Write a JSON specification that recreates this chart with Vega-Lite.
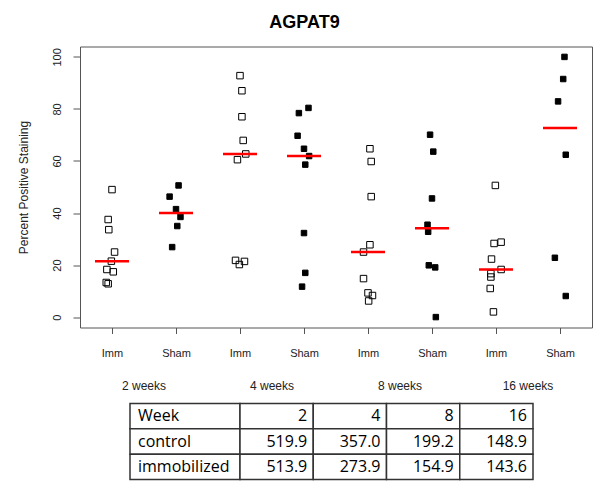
{
  "$schema": "https://vega.github.io/schema/vega-lite/v6.json",
  "background": "white",
  "padding": {"left": 16, "top": 13.5, "right": 5, "bottom": 5},
  "title": {"text": "AGPAT9", "fontSize": 18, "font": "Liberation Sans", "fontWeight": "bold", "anchor": "middle", "offset": 14, "color": "black"},
  "config": {"font": "Liberation Sans"},
  "resolve": {"scale": {"x": "independent", "y": "independent"}},
  "spacing": 0,
  "vconcat": [
    {
      "width": 512,
      "height": 281,
      "view": {"stroke": "#555", "strokeWidth": 1},
      "data": {"values": [
        {"g": 1, "t": "Imm", "xj": 1.00, "v": 49.0},
        {"g": 1, "t": "Imm", "xj": 0.94, "v": 37.5},
        {"g": 1, "t": "Imm", "xj": 0.95, "v": 33.6},
        {"g": 1, "t": "Imm", "xj": 1.04, "v": 25.0},
        {"g": 1, "t": "Imm", "xj": 0.99, "v": 21.5},
        {"g": 1, "t": "Imm", "xj": 0.92, "v": 18.3},
        {"g": 1, "t": "Imm", "xj": 1.02, "v": 17.4},
        {"g": 1, "t": "Imm", "xj": 0.91, "v": 13.3},
        {"g": 1, "t": "Imm", "xj": 0.94, "v": 12.8},
        {"g": 2, "t": "Sham", "xj": 2.04, "v": 50.6},
        {"g": 2, "t": "Sham", "xj": 1.90, "v": 46.3},
        {"g": 2, "t": "Sham", "xj": 2.00, "v": 41.5},
        {"g": 2, "t": "Sham", "xj": 2.07, "v": 38.5},
        {"g": 2, "t": "Sham", "xj": 2.02, "v": 35.0},
        {"g": 2, "t": "Sham", "xj": 1.94, "v": 26.9},
        {"g": 3, "t": "Imm", "xj": 3.00, "v": 92.8},
        {"g": 3, "t": "Imm", "xj": 3.03, "v": 87.0},
        {"g": 3, "t": "Imm", "xj": 3.03, "v": 77.0},
        {"g": 3, "t": "Imm", "xj": 3.05, "v": 67.9},
        {"g": 3, "t": "Imm", "xj": 3.09, "v": 62.7},
        {"g": 3, "t": "Imm", "xj": 2.96, "v": 60.5},
        {"g": 3, "t": "Imm", "xj": 2.93, "v": 21.8},
        {"g": 3, "t": "Imm", "xj": 3.07, "v": 21.4},
        {"g": 3, "t": "Imm", "xj": 2.99, "v": 20.2},
        {"g": 4, "t": "Sham", "xj": 4.07, "v": 80.4},
        {"g": 4, "t": "Sham", "xj": 3.92, "v": 78.4},
        {"g": 4, "t": "Sham", "xj": 3.90, "v": 69.7},
        {"g": 4, "t": "Sham", "xj": 4.00, "v": 64.7},
        {"g": 4, "t": "Sham", "xj": 4.08, "v": 61.9},
        {"g": 4, "t": "Sham", "xj": 4.02, "v": 58.6},
        {"g": 4, "t": "Sham", "xj": 4.00, "v": 32.3},
        {"g": 4, "t": "Sham", "xj": 4.02, "v": 17.0},
        {"g": 4, "t": "Sham", "xj": 3.97, "v": 11.7},
        {"g": 5, "t": "Imm", "xj": 5.03, "v": 64.7},
        {"g": 5, "t": "Imm", "xj": 5.05, "v": 59.8},
        {"g": 5, "t": "Imm", "xj": 5.05, "v": 46.3},
        {"g": 5, "t": "Imm", "xj": 5.03, "v": 27.8},
        {"g": 5, "t": "Imm", "xj": 4.93, "v": 25.0},
        {"g": 5, "t": "Imm", "xj": 4.93, "v": 14.8},
        {"g": 5, "t": "Imm", "xj": 5.00, "v": 9.3},
        {"g": 5, "t": "Imm", "xj": 5.07, "v": 8.3},
        {"g": 5, "t": "Imm", "xj": 5.01, "v": 6.2},
        {"g": 6, "t": "Sham", "xj": 5.97, "v": 70.1},
        {"g": 6, "t": "Sham", "xj": 6.02, "v": 63.6},
        {"g": 6, "t": "Sham", "xj": 6.00, "v": 45.6},
        {"g": 6, "t": "Sham", "xj": 5.93, "v": 35.5},
        {"g": 6, "t": "Sham", "xj": 5.94, "v": 32.8},
        {"g": 6, "t": "Sham", "xj": 5.95, "v": 19.9},
        {"g": 6, "t": "Sham", "xj": 6.05, "v": 19.1},
        {"g": 6, "t": "Sham", "xj": 6.06, "v": 0.0},
        {"g": 7, "t": "Imm", "xj": 6.99, "v": 50.6},
        {"g": 7, "t": "Imm", "xj": 7.08, "v": 28.8},
        {"g": 7, "t": "Imm", "xj": 6.97, "v": 28.3},
        {"g": 7, "t": "Imm", "xj": 6.93, "v": 22.3},
        {"g": 7, "t": "Imm", "xj": 7.08, "v": 18.3},
        {"g": 7, "t": "Imm", "xj": 6.92, "v": 16.7},
        {"g": 7, "t": "Imm", "xj": 6.92, "v": 15.4},
        {"g": 7, "t": "Imm", "xj": 6.91, "v": 11.0},
        {"g": 7, "t": "Imm", "xj": 6.96, "v": 2.0},
        {"g": 8, "t": "Sham", "xj": 8.07, "v": 100.0},
        {"g": 8, "t": "Sham", "xj": 8.05, "v": 91.5},
        {"g": 8, "t": "Sham", "xj": 7.97, "v": 82.9},
        {"g": 8, "t": "Sham", "xj": 8.09, "v": 62.4},
        {"g": 8, "t": "Sham", "xj": 7.92, "v": 22.8},
        {"g": 8, "t": "Sham", "xj": 8.09, "v": 8.1}
      ]},
      "layer": [
        {
          "mark": {"type": "point", "shape": "square", "filled": true, "stroke": "black", "strokeWidth": 1, "opacity": 1},
          "encoding": {
            "x": {"field": "xj", "type": "quantitative",
                  "scale": {"domain": [0.5, 8.5], "nice": false, "zero": false},
                  "axis": {"values": [1, 2, 3, 4, 5, 6, 7, 8], "labelExpr": "datum.value % 2 == 1 ? 'Imm' : 'Sham'", "title": null, "domain": false, "grid": false, "tickSize": 6, "tickColor": "#555", "labelPadding": 14, "labelFontSize": 11, "labelColor": "#222", "labelFont": "Liberation Sans"}},
            "y": {"field": "v", "type": "quantitative",
                  "scale": {"domain": [-4, 104], "nice": false, "zero": false},
                  "axis": {"values": [0, 20, 40, 60, 80, 100], "title": "Percent Positive Staining", "titleFontSize": 12, "titleFontWeight": "normal", "titleColor": "#222", "titlePadding": 21, "labelAngle": -90, "labelFontSize": 11, "labelColor": "#222", "labelPadding": 11, "tickSize": 7, "tickColor": "#555", "domain": false, "grid": false}},
            "fill": {"field": "t", "type": "nominal", "scale": {"domain": ["Imm", "Sham"], "range": ["transparent", "black"]}, "legend": null},
            "size": {"field": "t", "type": "ordinal", "scale": {"domain": ["Imm", "Sham"], "range": [42, 30]}, "legend": null}
          }
        },
        {
          "mark": {"type": "tick", "orient": "horizontal", "color": "#ff0000", "size": 34, "thickness": 2.5, "opacity": 1},
          "encoding": {
            "x": {"field": "g", "type": "quantitative"},
            "y": {"aggregate": "median", "field": "v", "type": "quantitative"}
          }
        }
      ]
    },
    {
      "width": 512,
      "height": 43,
      "view": {"stroke": null},
      "data": {"values": [
        {"m": 1.5, "w": "2 weeks"},
        {"m": 3.5, "w": "4 weeks"},
        {"m": 5.5, "w": "8 weeks"},
        {"m": 7.5, "w": "16 weeks"}
      ]},
      "mark": {"type": "text", "fontSize": 12, "color": "#222", "baseline": "middle", "dy": 4.5},
      "encoding": {
        "x": {"field": "m", "type": "quantitative", "scale": {"domain": [0.5, 8.5], "nice": false, "zero": false}, "axis": null},
        "text": {"field": "w"}
      }
    },
    {
      "spacing": 0,
      "bounds": "flush",
      "resolve": {"scale": {"x": "independent", "y": "independent"}},
      "hconcat": [
        {
          "width": 160,
          "height": 76,
          "view": {"stroke": null},
          "data": {"values": [
            {"r": 0, "c": 0, "t": "Week"},
            {"r": 1, "c": 0, "t": "control"},
            {"r": 2, "c": 0, "t": "immobilized"}
          ]},
          "layer": [
            {
              "mark": {"type": "rect", "fill": "white", "stroke": "#333", "strokeWidth": 1.5},
              "encoding": {
                "x": {"field": "c", "type": "ordinal", "scale": {"range": [50, 160], "paddingInner": 0, "paddingOuter": 0}, "axis": null},
                "y": {"field": "r", "type": "ordinal", "scale": {"paddingInner": 0, "paddingOuter": 0}, "axis": null}
              }
            },
            {
              "mark": {"type": "text", "align": "left", "dx": 8, "fontSize": 16, "font": "Open Sans", "color": "black"},
              "encoding": {
                "x": {"field": "c", "type": "ordinal", "bandPosition": 0},
                "y": {"field": "r", "type": "ordinal"},
                "text": {"field": "t"}
              }
            }
          ]
        },
        {
          "width": 293,
          "height": 76,
          "view": {"stroke": null},
          "data": {"values": [
            {"r": 0, "c": 1, "t": "2"},
            {"r": 0, "c": 2, "t": "4"},
            {"r": 0, "c": 3, "t": "8"},
            {"r": 0, "c": 4, "t": "16"},
            {"r": 1, "c": 1, "t": "519.9"},
            {"r": 1, "c": 2, "t": "357.0"},
            {"r": 1, "c": 3, "t": "199.2"},
            {"r": 1, "c": 4, "t": "148.9"},
            {"r": 2, "c": 1, "t": "513.9"},
            {"r": 2, "c": 2, "t": "273.9"},
            {"r": 2, "c": 3, "t": "154.9"},
            {"r": 2, "c": 4, "t": "143.6"}
          ]},
          "layer": [
            {
              "mark": {"type": "rect", "fill": "white", "stroke": "#333", "strokeWidth": 1.5},
              "encoding": {
                "x": {"field": "c", "type": "ordinal", "scale": {"paddingInner": 0, "paddingOuter": 0}, "axis": null},
                "y": {"field": "r", "type": "ordinal", "scale": {"paddingInner": 0, "paddingOuter": 0}, "axis": null}
              }
            },
            {
              "mark": {"type": "text", "align": "right", "dx": -6, "fontSize": 16, "font": "Open Sans", "color": "black"},
              "encoding": {
                "x": {"field": "c", "type": "ordinal", "bandPosition": 1},
                "y": {"field": "r", "type": "ordinal"},
                "text": {"field": "t"}
              }
            }
          ]
        }
      ]
    }
  ]
}
